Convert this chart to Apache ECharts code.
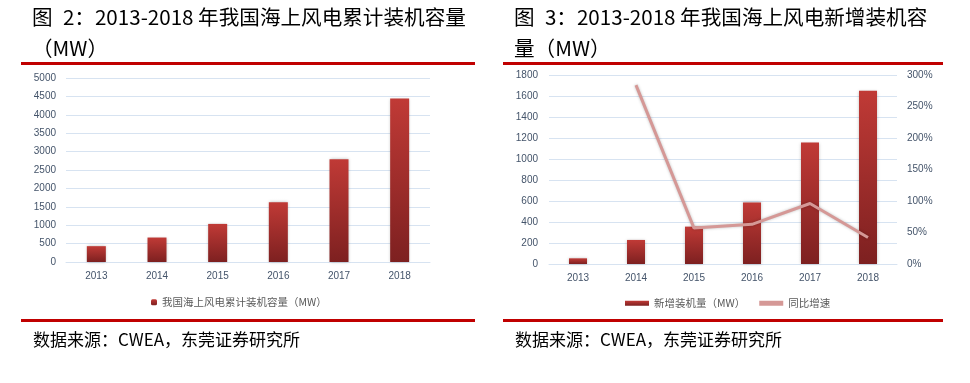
<!DOCTYPE html>
<html>
<head>
<meta charset="utf-8">
<script src="https://cdn.jsdelivr.net/npm/echarts@6/dist/echarts.min.js"></script>
<style>
html,body{margin:0;padding:0;background:#fff;}
#c{width:970px;height:383px;}
</style>
</head>
<body>
<div id="c"></div>
<script>
// ---- data ----
const years = ['2013', '2014', '2015', '2016', '2017', '2018'];
const cumulativeMW = [430, 665, 1035, 1625, 2795, 4440];
const addedMW = [54, 229, 356, 586, 1157, 1650];
const growthPct = [null, 284, 57, 63, 96, 42];
const leftTitle1 = '图\u20022：2013-2018 年我国海上风电累计装机容量';
const leftTitle2 = '（MW）';
const rightTitle1 = '图\u20023：2013-2018 年我国海上风电新增装机容';
const rightTitle2 = '量（MW）';
const sourceText = '数据来源：CWEA，东莞证券研究所';
const nameCum = '我国海上风电累计装机容量（MW）';
const nameAdd = '新增装机量（MW）';
const nameGrowth = '同比增速';

const chart = echarts.init(document.getElementById('c'), null, {renderer: 'canvas'});
const axisLabelColor = '#44546a';
const gridColor = '#d7e3f1';
const cjk = '"Noto Sans CJK SC", sans-serif';
const barGrad = new echarts.graphic.LinearGradient(0, 0, 0, 1, [
  {offset: 0, color: '#c03a36'},
  {offset: 1, color: '#7d2020'}
]);

function txt(x, y, text, size) {
  return {type: 'text', x: x, y: y, style: {text: text, font: 'normal ' + size + 'px ' + cjk, fill: '#000', textVerticalAlign: 'middle'}};
}
function rule(x1, x2, y) {
  return {type: 'rect', shape: {x: x1, y: y, width: x2 - x1, height: 3}, style: {fill: '#c00000'}};
}
const plain = function (v) { return String(v); };

const option = {
  animation: false,
  backgroundColor: '#fff',
  graphic: [
    txt(32, 17, leftTitle1, 20.6),
    txt(32, 48, leftTitle2, 20.6),
    txt(514, 17, rightTitle1, 20.6),
    txt(514, 48, rightTitle2, 20.6),
    rule(21, 475, 62),
    rule(503, 943, 62),
    rule(21, 475, 319),
    rule(503, 943, 319),
    txt(33, 340, sourceText, 17),
    txt(515, 340, sourceText, 17)
  ],
  grid: [
    {left: 66, right: 970 - 430, top: 78, bottom: 383 - 262},
    {left: 549, right: 970 - 897, top: 75, bottom: 383 - 264}
  ],
  legend: [
    {
      data: [nameCum], left: 146, top: 292, itemWidth: 6, itemHeight: 6, itemGap: 4,
      textStyle: {fontSize: 10.5, color: '#595959', fontFamily: cjk}
    },
    {
      data: [{name: nameAdd, icon: 'rect'}, {name: nameGrowth, icon: 'rect'}],
      left: 620, top: 293, itemWidth: 24, itemHeight: 5, itemGap: 14,
      textStyle: {fontSize: 10.5, color: '#595959', fontFamily: cjk}
    }
  ],
  xAxis: [
    {
      type: 'category', data: years, gridIndex: 0,
      axisLine: {show: true, lineStyle: {color: gridColor}}, axisTick: {show: false},
      axisLabel: {color: axisLabelColor, fontSize: 10, margin: 9, fontFamily: 'Liberation Sans'}
    },
    {
      type: 'category', data: years, gridIndex: 1,
      axisLine: {show: true, lineStyle: {color: gridColor}}, axisTick: {show: false},
      axisLabel: {color: axisLabelColor, fontSize: 10, margin: 9, fontFamily: 'Liberation Sans'}
    }
  ],
  yAxis: [
    {
      type: 'value', gridIndex: 0, min: 0, max: 5000, interval: 500,
      axisLine: {show: false}, axisTick: {show: false},
      splitLine: {lineStyle: {color: gridColor, width: 1}},
      axisLabel: {color: axisLabelColor, fontSize: 10, margin: 10, fontFamily: 'Liberation Sans', formatter: plain}
    },
    {
      type: 'value', gridIndex: 1, min: 0, max: 1800, interval: 200,
      axisLine: {show: false}, axisTick: {show: false},
      splitLine: {lineStyle: {color: gridColor, width: 1}},
      axisLabel: {color: axisLabelColor, fontSize: 10, margin: 11, fontFamily: 'Liberation Sans', formatter: plain}
    },
    {
      type: 'value', gridIndex: 1, min: 0, max: 300, interval: 50, position: 'right',
      axisLine: {show: false}, axisTick: {show: false}, splitLine: {show: false},
      axisLabel: {color: axisLabelColor, fontSize: 10, margin: 10, fontFamily: 'Liberation Sans', formatter: '{value}%'}
    }
  ],
  series: [
    {
      name: nameCum, type: 'bar', xAxisIndex: 0, yAxisIndex: 0, data: cumulativeMW, barWidth: 19,
      itemStyle: {color: barGrad, shadowBlur: 3, shadowColor: 'rgba(0,0,0,0.25)'}
    },
    {
      name: nameAdd, type: 'bar', xAxisIndex: 1, yAxisIndex: 1, data: addedMW, barWidth: 18,
      itemStyle: {color: barGrad, shadowBlur: 3, shadowColor: 'rgba(0,0,0,0.25)'}
    },
    {
      name: nameGrowth, type: 'line', xAxisIndex: 1, yAxisIndex: 2, data: growthPct,
      showSymbol: false, symbol: 'none', connectNulls: false,
      lineStyle: {color: '#d59896', width: 3, shadowBlur: 3, shadowColor: 'rgba(0,0,0,0.25)'},
      itemStyle: {color: '#d59896'}
    }
  ]
};
chart.setOption(option);
</script>
</body>
</html>
